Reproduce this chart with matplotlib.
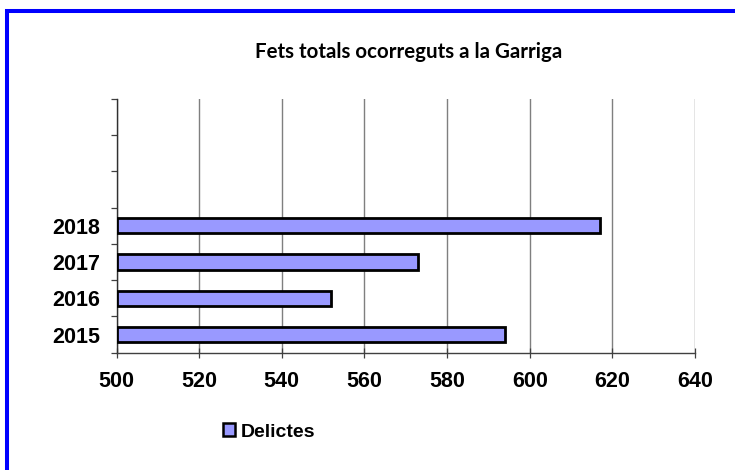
import matplotlib
matplotlib.use("Agg")
import matplotlib.pyplot as plt
from matplotlib.patches import Rectangle, Patch

# Data
years = ["2015", "2016", "2017", "2018"]
delictes = [594, 552, 573, 617]
n_slots = 7  # category slots on the axis (top three left empty)
x_ticks = [500, 520, 540, 560, 580, 600, 620, 640]
title = "Fets totals ocorreguts a la Garriga"
series_name = "Delictes"

W, H = 735, 470
fig = plt.figure(figsize=(W / 100, H / 100), dpi=100)
fig.patch.set_facecolor("white")

# Axes placement in pixels
left_px, right_px, top_px, bottom_px = 116.5, 695, 99, 352.7
ax = fig.add_axes([left_px / W, 1 - bottom_px / H,
                   (right_px - left_px) / W, (bottom_px - top_px) / H])

bar_color = "#9999FF"
ax.barh(range(len(years)), [v - x_ticks[0] for v in delictes], left=x_ticks[0],
        height=0.42, color=bar_color, edgecolor="black", linewidth=2.0, zorder=3)

ax.set_xlim(x_ticks[0], x_ticks[-1])
ax.set_ylim(-0.5, n_slots - 0.5)

# Vertical grid
ax.set_xticks(x_ticks)
ax.set_xticklabels([str(t) for t in x_ticks])
ax.xaxis.grid(True, color="#7f7f7f", linewidth=1.0, zorder=0)
ax.set_axisbelow(True)

# Y ticks at slot boundaries, labels at slot centres
ax.set_yticks([i - 0.5 for i in range(n_slots + 1)])
ax.set_yticklabels([])
ax.set_yticks(range(len(years)), minor=True)
ax.set_yticklabels(years, minor=True)
ax.tick_params(axis="y", which="major", direction="out", length=4.5, width=0.9, color="#404040")
ax.tick_params(axis="y", which="minor", length=0, pad=12)
ax.tick_params(axis="x", direction="inout", length=7, width=0.9, color="#404040", pad=10)

for lab in ax.get_xticklabels() + ax.get_yticklabels(minor=True):
    lab.set_fontfamily("Liberation Sans")
    lab.set_fontweight("bold")
    lab.set_fontsize(15.5)

for s in ["top", "right"]:
    ax.spines[s].set_visible(False)
ax.spines["left"].set_color("#303030")
ax.spines["bottom"].set_color("#404040")
ax.spines["left"].set_linewidth(1.0)
ax.spines["bottom"].set_linewidth(1.0)

# Title
fig.text(408.5 / W, 1 - 52 / H, title, ha="center", va="center",
         fontfamily="Lato", fontweight="bold", fontsize=14.8)

# Legend
handle = Patch(facecolor=bar_color, edgecolor="black", linewidth=1.8)
leg = fig.legend([handle], [series_name], loc="center left",
                 bbox_to_anchor=(223 / W, 1 - 432 / H), frameon=False,
                 handlelength=0.6, handleheight=0.6, handletextpad=0.3,
                 borderpad=0, borderaxespad=0,
                 prop={"family": "Liberation Sans", "weight": "bold", "size": 14})

# Blue frame around the chart area
fig.add_artist(Rectangle((7.5 / W, -0.2), 1.2, 1 + 0.2 - 11 / H,
                         transform=fig.transFigure, fill=False,
                         edgecolor="#0000FF", linewidth=2.9, clip_on=False))

fig.savefig("out.png", dpi=100, facecolor="white")
